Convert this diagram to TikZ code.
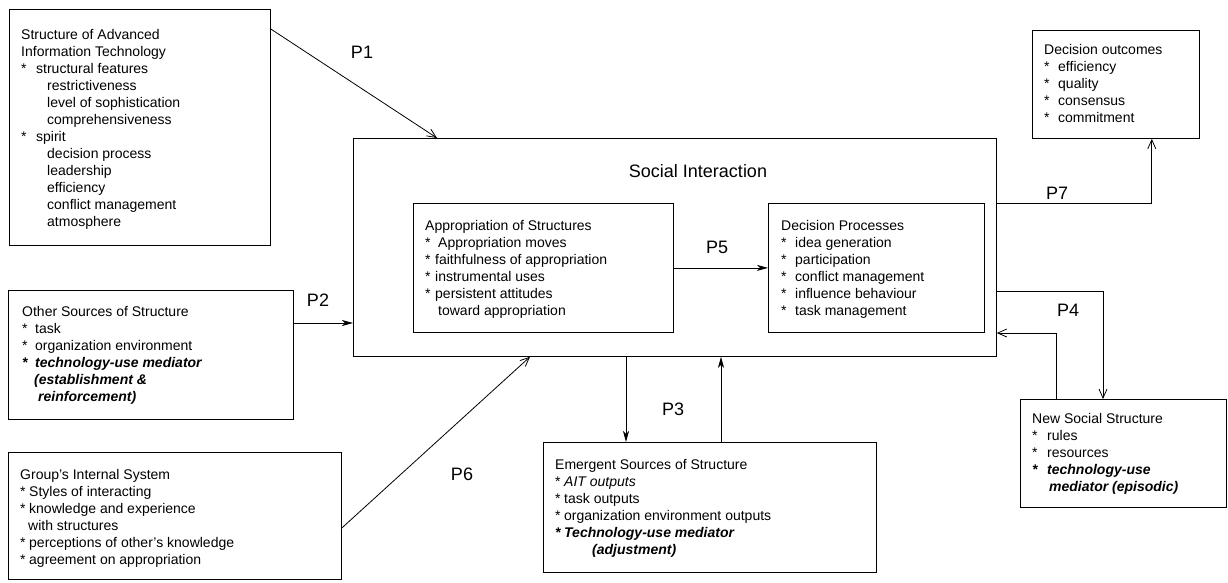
\documentclass[tikz,border=0pt]{standalone}
\usepackage{fontspec}
\setmainfont{Liberation Sans}
\usetikzlibrary{arrows.meta,calc}
\newcommand{\bl}[2]{\makebox[#1][l]{*}#2}
\newcommand{\ind}[1]{\hspace*{#1}}
\newcommand{\bi}[1]{\textbf{\textit{#1}}}
\begin{document}
\begin{tikzpicture}[x=1pt,y=-1pt,
  box/.style={draw, line width=0.8pt, inner sep=0pt, anchor=north west},
  txt/.style={anchor=north west, inner sep=0pt, align=left, font=\fontsize{14}{17}\selectfont},
  lab/.style={font=\fontsize{18}{20}\selectfont, inner sep=0pt},
  conn/.style={line width=0.8pt},
  filledarrow/.style={conn, -{Stealth[length=11pt,width=6pt,inset=3pt]}},
  openarrow/.style={conn, -{Straight Barb[length=9pt,width=8pt]}}]
\useasboundingbox (0,0) rectangle (1228,582);
\fill[white] (0,0) rectangle (1228,582);

% boxes
\node[box, minimum width=261pt, minimum height=236pt] (b1) at (9,9) {};
\node[box, minimum width=285pt, minimum height=129pt] (b2) at (8,290) {};
\node[box, minimum width=333pt, minimum height=127pt] (b3) at (8,452) {};
\node[box, minimum width=643pt, minimum height=218pt] (main) at (353,138) {};
\node[box, minimum width=260pt, minimum height=129pt] (ap) at (413,203) {};
\node[box, minimum width=216pt, minimum height=129pt] (dp) at (768,203) {};
\node[box, minimum width=167pt, minimum height=108pt] (do) at (1032,30) {};
\node[box, minimum width=206pt, minimum height=108pt] (ns) at (1020,399) {};
\node[box, minimum width=333pt, minimum height=130pt] (em) at (543,442) {};

% texts
\node[txt] (t1) at (21,29) {Structure of Advanced\\Information Technology\\
\bl{15pt}{structural features}\\\ind{26pt}restrictiveness\\\ind{26pt}level of sophistication\\\ind{26pt}comprehensiveness\\
\bl{15pt}{spirit}\\\ind{26pt}decision process\\\ind{26pt}leadership\\\ind{26pt}efficiency\\\ind{26pt}conflict management\\\ind{26pt}atmosphere};

\node[txt] (t2) at (22,306) {Other Sources of Structure\\\bl{13pt}{task}\\\bl{13pt}{organization environment}\\
\bi{\bl{13pt}{technology-use mediator}}\\\ind{12pt}\bi{(establishment \&}\\\ind{16pt}\bi{reinforcement)}};

\node[txt] (t3) at (20,469) {Group's Internal System\\\bl{9pt}{Styles of interacting}\\\bl{9pt}{knowledge and experience}\\
\ind{8pt}with structures\\\bl{9pt}{perceptions of other's knowledge}\\\bl{9pt}{agreement on appropriation}};

\node[font=\fontsize{18}{20}\selectfont, inner sep=0pt] (title) at (698,171) {Social Interaction};

\node[txt] (tap) at (425,220) {Appropriation of Structures\\\bl{13pt}{Appropriation moves}\\\bl{10pt}{faithfulness of appropriation}\\
\bl{10pt}{instrumental uses}\\\bl{10pt}{persistent attitudes}\\\ind{13pt}toward appropriation};

\node[txt] (tdp) at (781,220) {Decision Processes\\\bl{14pt}{idea generation}\\\bl{14pt}{participation}\\
\bl{14pt}{conflict management}\\\bl{14pt}{influence behaviour}\\\bl{14pt}{task management}};

\node[txt] (tdo) at (1044,44) {Decision outcomes\\\bl{14pt}{efficiency}\\\bl{14pt}{quality}\\\bl{14pt}{consensus}\\\bl{14pt}{commitment}};

\node[txt] (tns) at (1032,413) {New Social Structure\\\bl{15pt}{rules}\\\bl{15pt}{resources}\\
\bi{\bl{15pt}{technology-use}}\\\ind{17pt}\bi{mediator (episodic)}};

\node[txt] (tem) at (555,459) {Emergent Sources of Structure\\\bl{9pt}{\textit{AIT outputs}}\\\bl{9pt}{task outputs}\\
\bl{9pt}{organization environment outputs}\\\bi{\bl{9pt}{Technology-use mediator}}\\\ind{37pt}\bi{(adjustment)}};

% connectors
\draw[openarrow] ($(b1.north east)+(0,20)$) -- ($(main.north west)+(84,0)$);
\draw[filledarrow] ($(b2.north east)+(0,33)$) coordinate (p2s) -- (p2s -| main.west);
\draw[filledarrow] (ap.east) -- (dp.west);
\draw[filledarrow] ($(main.south west)+(273,0)$) coordinate (p3a) -- (p3a |- em.north);
\draw[filledarrow] ($(em.north west)+(178,0)$) coordinate (p3b) -- (p3b |- main.south);
\draw[openarrow] ($(b3.north east)+(0,76)$) -- ($(main.south west)+(177,0)$);
\draw[openarrow] ($(main.north east)+(0,65)$) -| ($(do.south east)+(-48,0)$);
\draw[openarrow] ($(main.north east)+(0,153)$) -| ($(ns.north west)+(83,0)$);
\draw[openarrow] ($(ns.north west)+(36,0)$) |- ($(main.north east)+(0,195)$);

% labels
\node[lab] (l1) at (362,52) {P1};
\node[lab] (l2) at (318,300) {P2};
\node[lab] (l5) at (717,247) {P5};
\node[lab] (l3) at (673,409) {P3};
\node[lab] (l6) at (462,474) {P6};
\node[lab] (l7) at (1057,193) {P7};
\node[lab] (l4) at (1068,310) {P4};
\end{tikzpicture}
\end{document}
